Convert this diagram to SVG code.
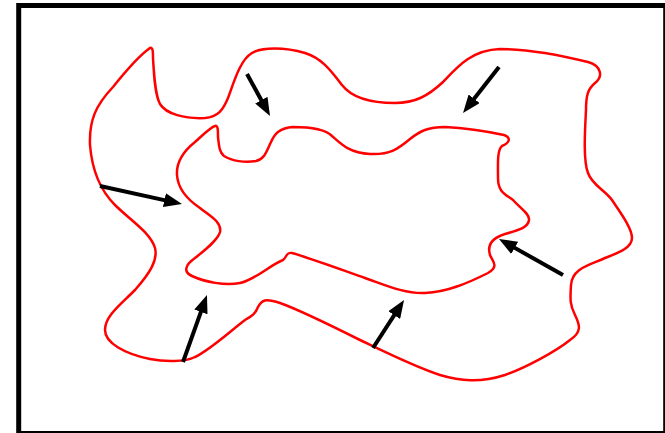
<svg xmlns="http://www.w3.org/2000/svg" width="665" height="433" viewBox="0 0 665 433">
<style>
.blob{fill:none;stroke:#ff0000;stroke-width:2.5;stroke-linejoin:round}
.arr{stroke:#000;stroke-width:4;fill:none;marker-end:url(#head)}
</style>
<defs>
<marker id="head" markerUnits="userSpaceOnUse" markerWidth="18" markerHeight="14" refX="8" refY="7" orient="auto">
<path d="M0,0 L18,7 L0,14 Z" fill="#000"/>
</marker>
</defs>
<rect width="665" height="433" fill="#fff"/>
<rect x="18.7" y="5.5" width="647" height="428" fill="none" stroke="#000" stroke-width="5"/>
<g id="outer">
<path class="blob" d="M150,48 C153,47 153,52 153,58 C154,75 155,95 160,104 C166,114 185,119 205,118 C218,117 223,110 228,98 C234,82 240,60 252,53 C262,47 285,47 305,53 C322,58 332,72 342,85 C352,98 372,103 395,103 C415,103 428,96 443,82 C458,66 472,50 500,49 C525,49 560,55 588,62 C602,66 603,77 595,83 C588,89 586,95 586,110 C585,130 583,160 588,173 C592,185 605,190 612,200 C620,212 632,228 632,238 C632,248 618,253 605,258 C590,265 572,268 571,285 C570,300 570,305 575,315 C580,325 582,332 570,340 C555,352 525,368 505,375 C480,383 460,381 440,375 C415,367 385,352 360,340 C340,330 300,310 280,303 C265,298 262,300 258,307 C255,315 250,317 245,320 C228,333 210,350 195,357 C185,362 165,362 150,359 C125,354 105,343 105,330 C105,316 120,305 135,290 C150,273 158,260 155,248 C150,232 130,220 115,205 C100,190 92,170 90,145 C89,120 96,105 113,87 C125,72 140,55 150,48 Z"/>
</g>
<g id="inner">
<path class="blob" d="M215,126 C218,125 218,130 218,137 C219,145 219,152 224,156 C232,161 245,163 256,161 C265,159 267,150 271,142 C275,133 280,128 293,127 C310,127 325,129 332,136 C342,145 350,153 370,154 C390,155 398,149 410,139 C420,131 428,127 445,127 C465,128 490,132 504,135 C512,138 509,143 502,146 C497,150 498,165 498,178 C498,192 505,194 513,200 C520,208 530,214 529,220 C528,228 518,230 505,234 C492,238 487,245 490,255 C492,261 500,266 488,273 C470,282 448,292 425,293 C405,294 385,285 365,278 C345,271 310,258 292,253 C286,252 287,257 283,260 C270,265 255,280 240,283 C225,286 205,282 192,276 C183,272 185,265 195,258 C205,250 218,240 220,232 C222,222 210,216 200,208 C188,200 178,190 177,175 C176,160 185,150 195,142 C205,133 211,127 215,126 Z"/>
</g>
<g id="connectors">
<line class="arr" x1="247" y1="74" x2="265.2" y2="107.2"/>
<line class="arr" x1="499" y1="67" x2="469.2" y2="105.1"/>
<line class="arr" x1="100" y1="186" x2="172.2" y2="201.9"/>
<line class="arr" x1="183" y1="362" x2="203.6" y2="304.4"/>
<line class="arr" x1="373" y1="348" x2="398.6" y2="308.4"/>
<line class="arr" x1="563" y1="275" x2="507.7" y2="243.9"/>
</g>
</svg>
